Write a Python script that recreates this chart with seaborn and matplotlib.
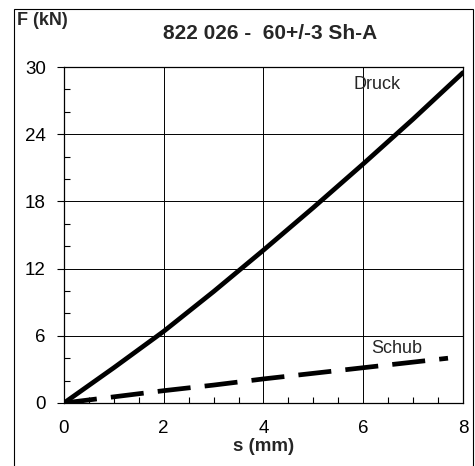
import pandas as pd
import matplotlib.pyplot as plt
import seaborn as sns
from matplotlib.patches import Rectangle
from matplotlib.ticker import MultipleLocator

# Data
s_druck = [0, 1, 2, 3, 4, 5, 6, 7, 8]
f_druck = [0, 3.15, 6.4, 9.95, 13.65, 17.45, 21.35, 25.35, 29.5]
s_schub = [0, 1, 2, 3, 4, 5, 6, 7, 7.7]
f_schub = [0, 0.55, 1.1, 1.6, 2.15, 2.65, 3.15, 3.65, 4.0]

df = pd.concat([
    pd.DataFrame({"s": s_druck, "F": f_druck, "kind": "Druck"}),
    pd.DataFrame({"s": s_schub, "F": f_schub, "kind": "Schub"}),
])

sns.set_style("white")
plt.rcParams["font.family"] = ["Liberation Sans", "DejaVu Sans"]

fig = plt.figure(figsize=(4.75, 4.66), dpi=100)
ax = fig.add_axes([0.1347, 0.1352, 0.84, 0.721])

sns.lineplot(data=df, x="s", y="F", style="kind", hue="kind",
             palette={"Druck": "black", "Schub": "black"},
             dashes={"Druck": "", "Schub": (7, 3)},
             linewidth=3.4, legend=False, ax=ax, sort=False)
for ln in ax.get_lines():
    ln.set_dash_capstyle("butt")

ax.set_xlim(0, 8)
ax.set_ylim(0, 30)
ax.xaxis.set_major_locator(MultipleLocator(2))
ax.xaxis.set_minor_locator(MultipleLocator(0.5))
ax.yaxis.set_major_locator(MultipleLocator(6))
ax.yaxis.set_minor_locator(MultipleLocator(2))
ax.grid(True, which="major", color="black", linewidth=0.7)
ax.tick_params(which="major", direction="out", length=5, width=0.8,
               labelsize=13.5, color="black", labelcolor="black")
ax.tick_params(axis="x", which="major", length=0, pad=12)
ax.tick_params(axis="y", which="major", pad=8)
ax.tick_params(which="minor", direction="in", length=4, width=0.8,
               color="black", bottom=True, left=True)
ax.tick_params(axis="both", which="both", bottom=True, left=True)
for sp in ax.spines.values():
    sp.set_color("black")
    sp.set_linewidth(0.9)

ax.set_xlabel("s (mm)", fontsize=13.5, fontweight="bold", labelpad=1)
ax.set_ylabel("")

ax.text(6.28, 28.4, "Druck", fontsize=13, ha="center", va="center")
ax.text(6.68, 4.9, "Schub", fontsize=13, ha="center", va="center")

fig.text(0.036, 0.957, "F (kN)", fontsize=13, fontweight="bold", va="center", ha="left")
fig.text(0.568, 0.929, "822 026 -  60+/-3 Sh-A", fontsize=15, fontweight="bold",
         va="center", ha="center")

fig.patches.append(Rectangle((0.029, -0.01), 0.966, 0.99, transform=fig.transFigure,
                             fill=False, edgecolor="black", linewidth=0.8))

plt.savefig("out.png", dpi=100)
plt.close()
